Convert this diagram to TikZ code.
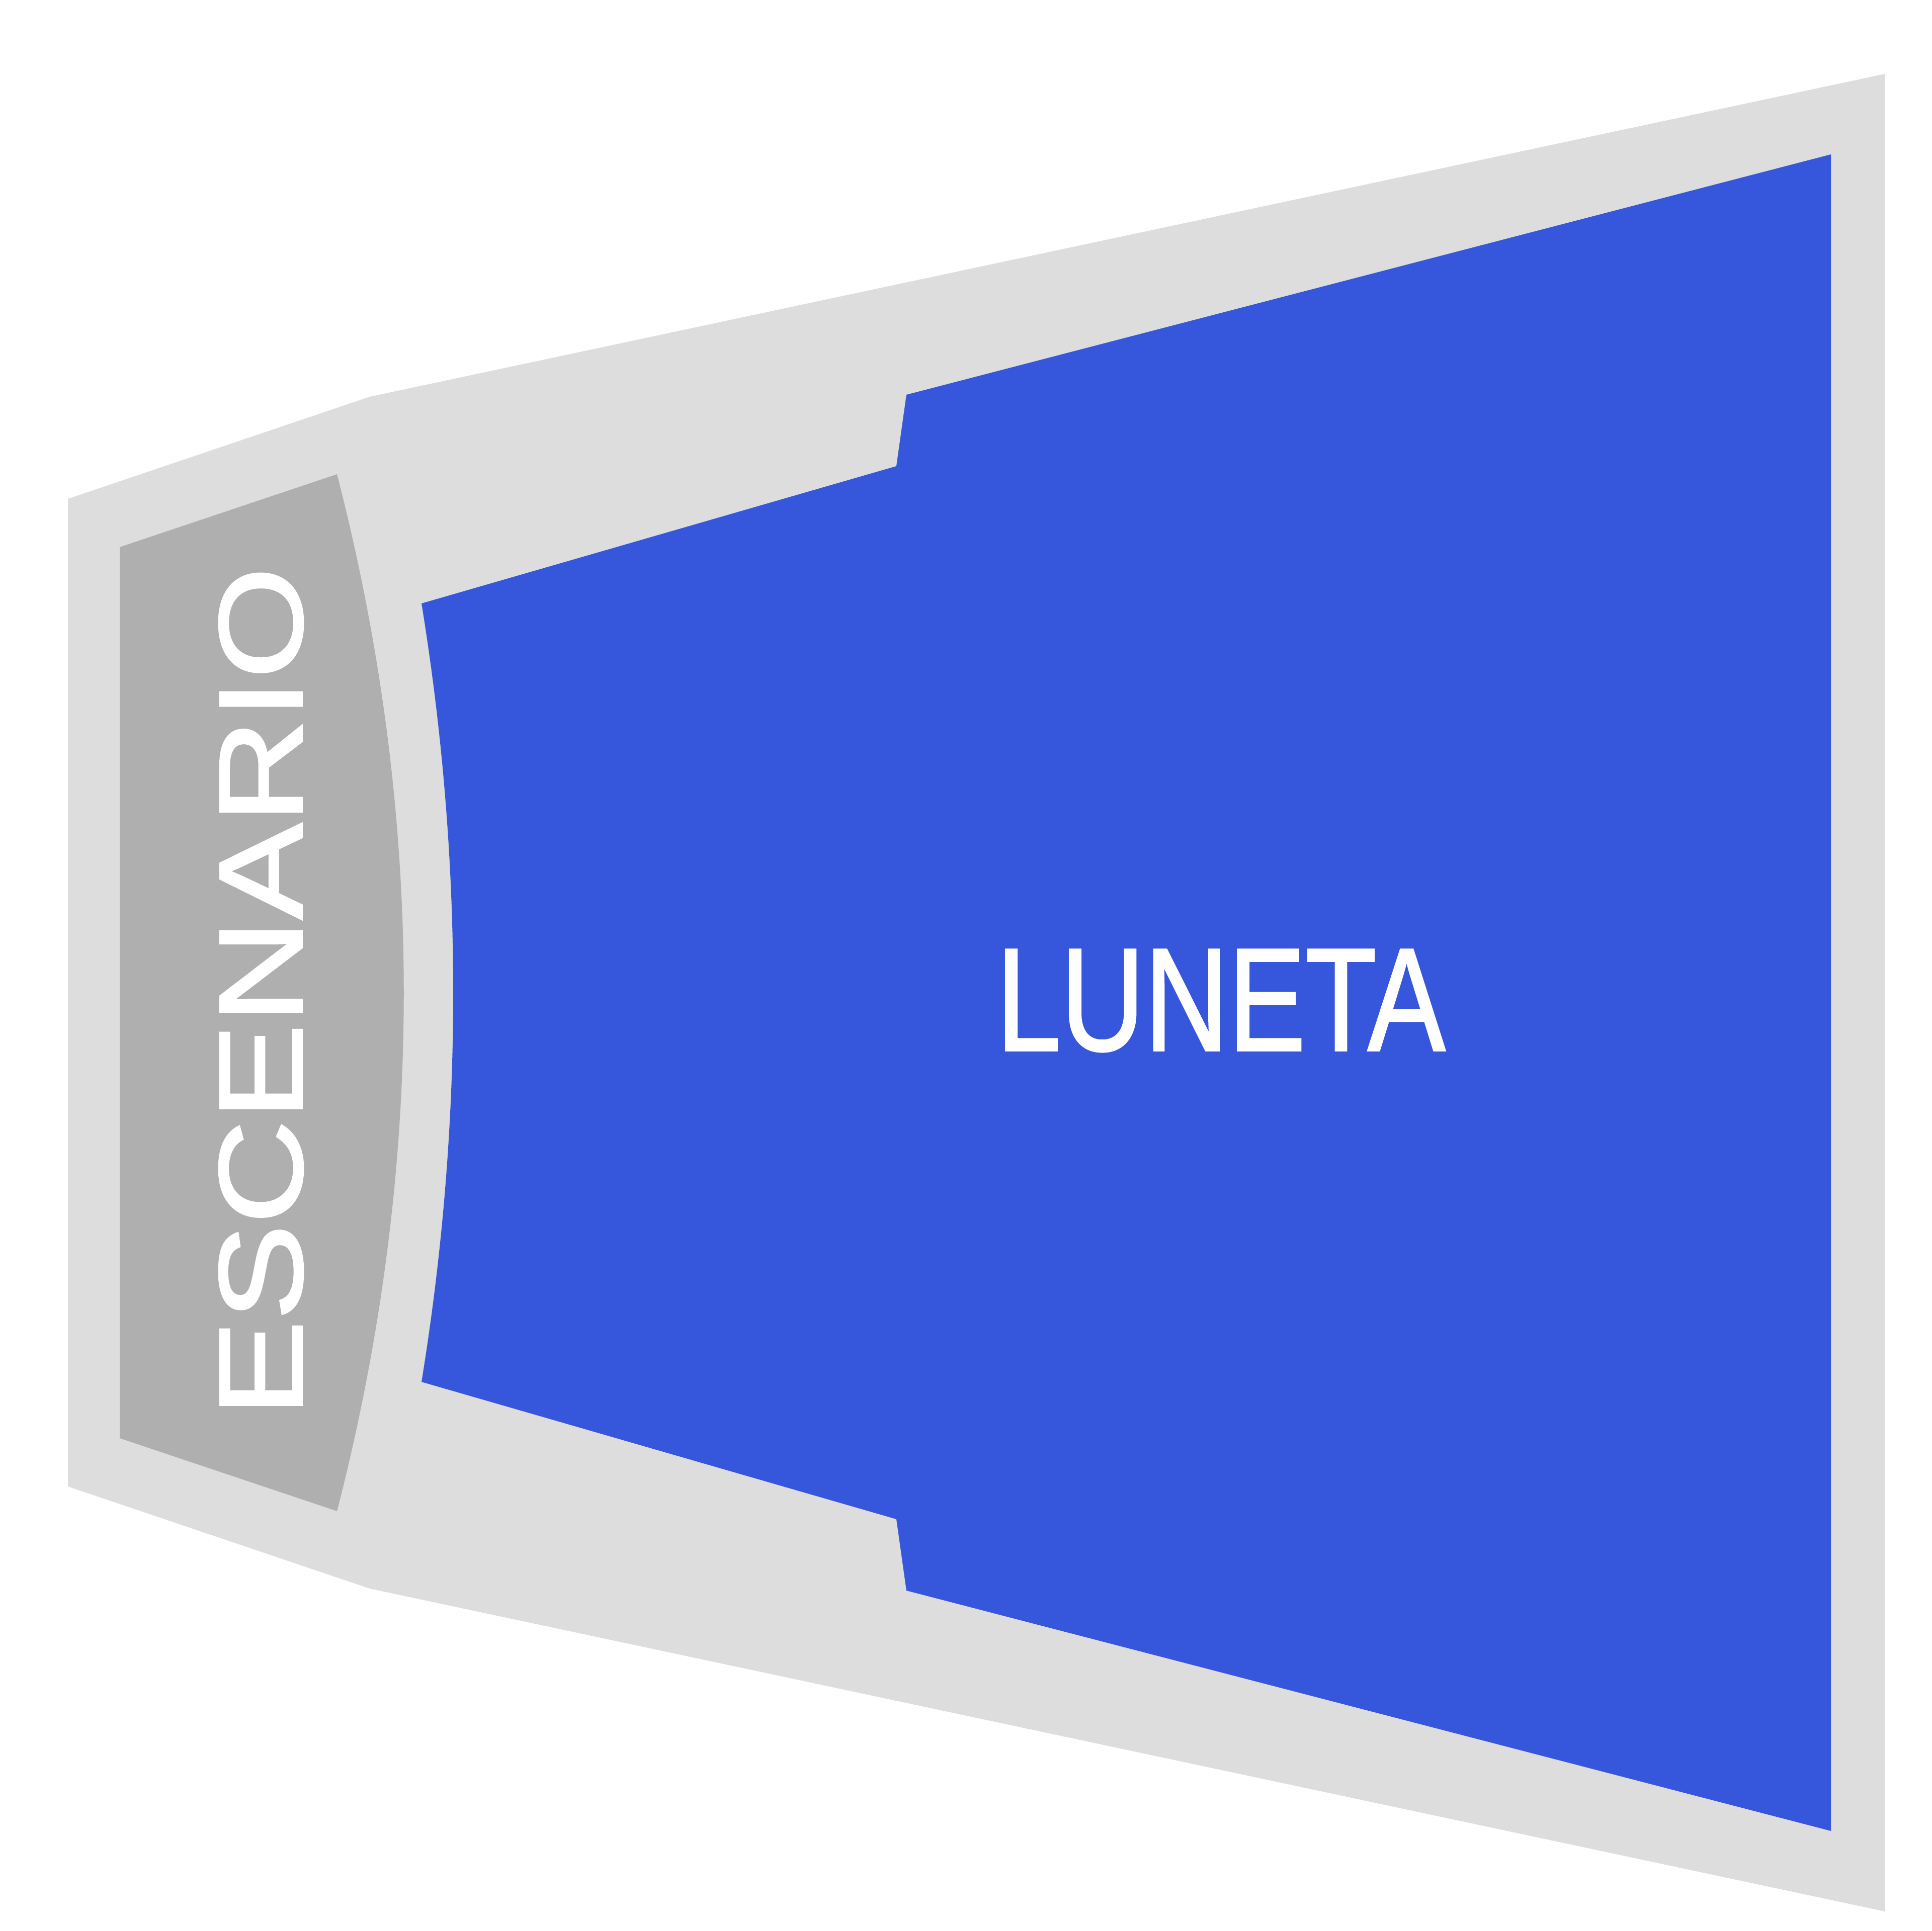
\documentclass[tikz,border=0pt]{standalone}
\usepackage{fontspec}
\setmainfont{Liberation Sans}
\newfontfamily\planfont[FakeBold=1.5]{Liberation Sans}
\usepackage{tikz}
\definecolor{hallgray}{HTML}{DDDDDD}
\definecolor{stagegray}{HTML}{AFAFAF}
\definecolor{lunetablue}{HTML}{3657DB}

\begin{document}
\begin{tikzpicture}[area label/.style={text=white, inner sep=0pt}]
\tikzstyle{every node}+=[inner sep=0pt]
\useasboundingbox (0,0) rectangle (38.4,-38.4);
% sala
\fill [hallgray] (1.35,-9.92) -- (7.35,-7.89) -- (37.47,-1.47) -- (37.47,-38.01) -- (7.35,-31.59) -- (1.35,-29.56) -- cycle;
% escenario
\fill [stagegray] (2.38,-10.88) -- (6.70,-9.43) .. controls (8.47,-16.30) and (8.47,-23.18) .. (6.70,-30.05) -- (2.38,-28.60) -- cycle;
% luneta
\fill [lunetablue] (8.38,-12.00) -- (17.82,-9.27) -- (18.02,-7.85) -- (36.40,-3.07) -- (36.40,-36.41) -- (18.02,-31.63) -- (17.82,-30.21) -- (8.38,-27.48) .. controls (9.22,-22.32) and (9.22,-17.16) .. (8.38,-12.00) -- cycle;
\node [area label, rotate=90, font=\planfont\fontsize{67.2}{70}\selectfont] (escenario) at (5.19,-19.72) {\scalebox{1.215}[1]{ESCENARIO}};
\node [area label, font=\planfont\fontsize{82.7}{86}\selectfont] (luneta) at (24.27,-19.90) {\scalebox{0.793}[1]{LUNETA}};
\end{tikzpicture}
\end{document}
